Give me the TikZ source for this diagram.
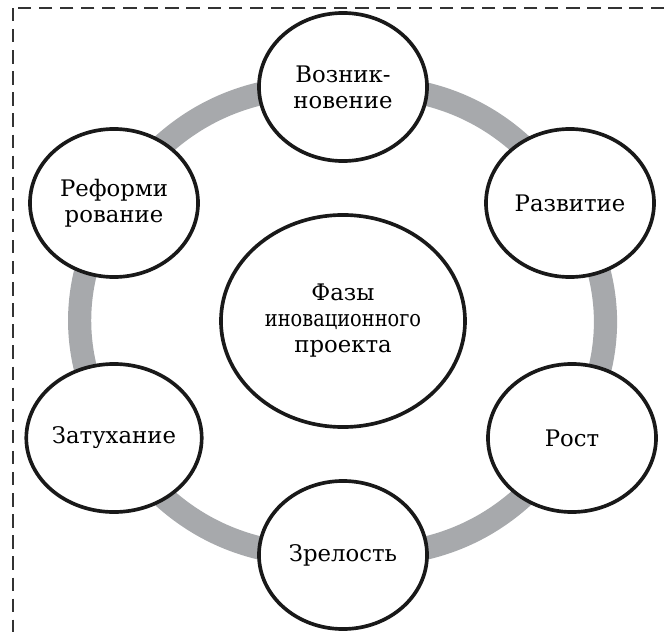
\documentclass[tikz,border=0pt]{standalone}
\usepackage{fontspec}
\setmainfont{DejaVu Serif}
\usetikzlibrary{shapes.geometric,backgrounds}
\definecolor{ringgray}{HTML}{A7A9AC}
\definecolor{framegray}{HTML}{333333}

\begin{document}
\begin{tikzpicture}[
  x=0.025cm, y=0.025cm,
  font=\fontsize{16.2}{18.5}\selectfont,
  phase/.style={ellipse, draw=black!90, line width=2.6pt, fill=white, align=center,
                inner sep=0pt, minimum width=4.2cm, minimum height=3.7cm},
  hub/.style={phase, minimum width=6.1cm, minimum height=5.3cm},
  ring/.style={draw=ringgray, line width=16.5pt},
  frame/.style={draw=framegray, line width=1.7pt, dash pattern=on 9.5pt off 5.5pt}
]
\clip (0,0) rectangle (667,-632);
% ----- dashed frame (runs past the lower right) -----
\draw[frame] (13,-8) rectangle (700,-680);
% ----- centre -----
\node[hub]   (phases)  at (343,-321) {Фазы\\{\scalebox{0.85}[1]{иновационного}}\\проекта};
% ----- six phases round the centre -----
\node[phase] (born)    at (343,-87)  {Возник-\\новение};
\node[phase] (develop) at (570,-203) {Развитие};
\node[phase] (growth)  at (572,-438) {Рост};
\node[phase] (mature)  at (343,-555) {Зрелость};
\node[phase] (fade)    at (114,-438) {Затухание};
\node[phase] (reform)  at (114,-203) {Реформи\\рование};
% ----- grey ring behind the phases -----
\begin{scope}[on background layer]
\foreach \a/\b in {born/develop, develop/growth, growth/mature, mature/fade, fade/reform, reform/born}
  {\draw[ring] (\a.center) to[bend left=30] (\b.center);}
\end{scope}
\end{tikzpicture}
\end{document}
